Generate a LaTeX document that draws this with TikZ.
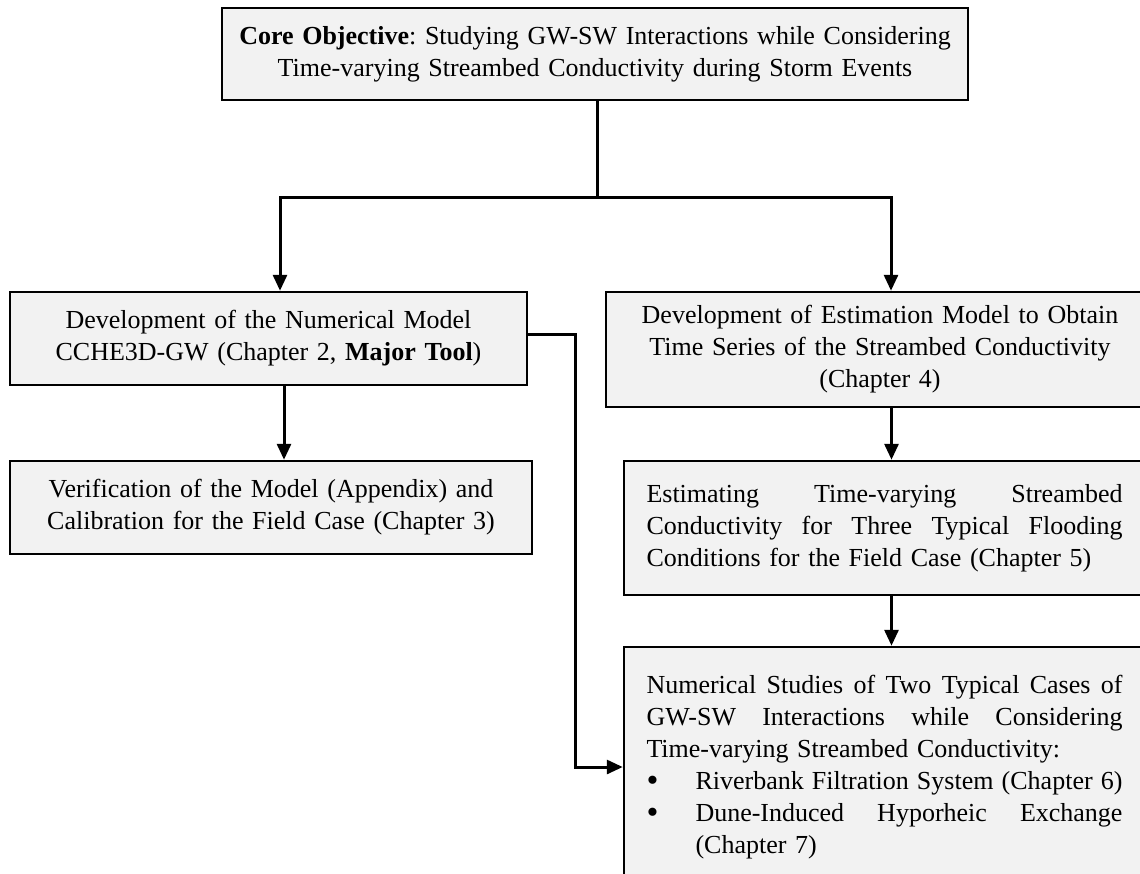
\documentclass[tikz,border=0pt]{standalone}
\usepackage{fontspec}
\setmainfont{Liberation Serif}
\usetikzlibrary{arrows.meta}
\definecolor{boxfill}{HTML}{F2F2F2}
\newcommand{\jline}[2][476pt]{\makebox[#1][s]{\spaceskip=0pt\xspaceskip=0pt\relax #2}}
\newcommand{\bigbul}{\makebox[49pt][l]{\raisebox{-2pt}{\fontsize{34}{32}\selectfont\textbullet}}}
\begin{document}
\begin{tikzpicture}[x=1pt,y=-1pt,
  box/.style={draw=black, line width=2.5pt, fill=boxfill, inner sep=0pt, align=center, font=\fontsize{26}{32}\selectfont\frenchspacing},
  conn/.style={line width=3pt},
  arr/.style={conn, -{Triangle[length=16pt,width=14pt]}}]
\useasboundingbox (0,0) rectangle (1140,873);
\clip (0,0) rectangle (1140,873);
\fill[white] (0,0) rectangle (1140,873);

\node[box, minimum width=746pt, minimum height=92pt, text width=730pt] (core) at (595,54)
  {\textbf{Core Objective}: Studying GW-SW Interactions while Considering\\ Time-varying Streambed Conductivity during Storm Events};

\node[box, minimum width=517pt, minimum height=93pt, text width=500pt] (dev) at (268.5,338.5)
  {Development of the Numerical Model\\ CCHE3D-GW (Chapter 2, \textbf{Major Tool})};

\node[box, minimum width=522pt, minimum height=93pt, text width=500pt] (ver) at (271,507.5)
  {Verification of the Model (Appendix) and\\ Calibration for the Field Case (Chapter 3)};

\node[box, minimum width=548pt, minimum height=115pt, text width=520pt] (est) at (880,349.5)
  {Development of Estimation Model to Obtain\\ Time Series of the Streambed Conductivity\\ (Chapter 4)};

\node[box, minimum width=521pt, minimum height=134pt, text width=476pt, align=left] (flood) at (884.5,528)
  {\jline{Estimating Time-varying Streambed}\\
   \jline{Conductivity for Three Typical Flooding}\\
   Conditions for the Field Case (Chapter 5)};

\node[box, minimum width=521pt, minimum height=240pt, text width=476pt, align=left] (num) at (884.5,767)
  {\jline{Numerical Studies of Two Typical Cases of}\\
   \jline{GW-SW Interactions while Considering}\\
   Time-varying Streambed Conductivity:\\
   \bigbul\jline[427pt]{Riverbank Filtration System (Chapter 6)}\\
   \bigbul\jline[427pt]{Dune-Induced Hyporheic Exchange}\\
   \hspace*{49pt}(Chapter 7)};

\coordinate (j) at (597,197);
\coordinate (jl) at (280,197);
\coordinate (jr) at (891,197);
\coordinate (xa) at (284,0);
\coordinate (xb) at (891.5,0);
\coordinate (xc) at (575,0);
\coordinate (yd) at (0,334);

\draw[arr] (core.south -| j) -- (j) -| (jl |- dev.north);
\draw[arr] (j) -| (jr |- est.north);
\draw[arr] (dev.south -| xa) -- (ver.north -| xa);
\draw[arr] (est.south -| xb) -- (flood.north -| xb);
\draw[arr] (flood.south -| xb) -- (num.north -| xb);
\draw[arr] (dev.east |- yd) -- (xc |- yd) -- (xc |- num.west) -- (num.west);
\end{tikzpicture}
\end{document}
